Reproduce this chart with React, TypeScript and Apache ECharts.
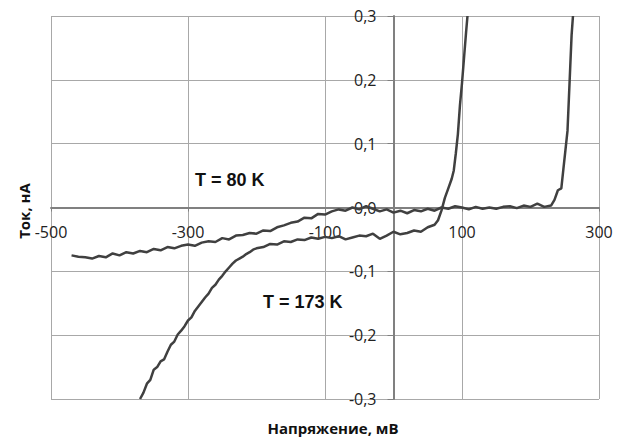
import React, { useEffect, useRef } from "react";
import * as echarts from "echarts";

// T = 80 K curve
const v80 = [-470, -460, -450, -440, -430, -420, -410, -400, -390, -380, -370, -360, -350, -340, -330, -320, -310, -300, -290, -280, -270, -260, -250, -240, -230, -220, -210, -200, -190, -180, -170, -160, -150, -140, -130, -120, -110, -100, -90, -80, -70, -60, -50, -40, -30, -20, -10, 0, 10, 20, 30, 40, 50, 60, 70, 80, 90, 100, 110, 120, 130, 140, 150, 160, 170, 180, 190, 200, 210, 220, 230, 235, 240, 245, 248, 251, 254, 256, 258, 260, 262];
const i80 = [-0.075, -0.077, -0.078, -0.080, -0.076, -0.078, -0.072, -0.075, -0.070, -0.072, -0.068, -0.070, -0.065, -0.067, -0.062, -0.064, -0.060, -0.058, -0.060, -0.055, -0.053, -0.054, -0.048, -0.050, -0.044, -0.043, -0.040, -0.041, -0.036, -0.037, -0.031, -0.028, -0.024, -0.022, -0.016, -0.017, -0.010, -0.011, -0.006, -0.003, -0.005, 0.000, -0.003, 0.002, -0.002, -0.006, -0.003, -0.008, -0.005, -0.009, -0.004, -0.006, -0.002, -0.005, 0.000, -0.002, 0.002, 0.000, -0.003, 0.001, -0.002, 0.000, -0.002, 0.001, 0.002, -0.001, 0.003, 0.001, 0.006, 0.001, 0.003, 0.012, 0.027, 0.030, 0.060, 0.090, 0.120, 0.170, 0.220, 0.270, 0.300];

// T = 173 K curve
const v173 = [-370, -365, -360, -355, -350, -345, -340, -335, -330, -325, -320, -315, -310, -305, -300, -295, -290, -285, -280, -275, -270, -265, -260, -255, -250, -245, -240, -235, -230, -225, -220, -215, -210, -205, -200, -190, -180, -170, -160, -150, -140, -130, -120, -110, -100, -90, -80, -70, -60, -50, -40, -30, -20, -10, 0, 10, 20, 30, 40, 50, 60, 65, 70, 75, 80, 85, 88, 91, 94, 97, 100, 103, 106, 108];
const i173 = [-0.300, -0.290, -0.276, -0.270, -0.254, -0.250, -0.241, -0.238, -0.226, -0.215, -0.210, -0.199, -0.193, -0.186, -0.177, -0.172, -0.162, -0.155, -0.148, -0.141, -0.135, -0.126, -0.121, -0.113, -0.107, -0.100, -0.094, -0.088, -0.083, -0.080, -0.077, -0.073, -0.070, -0.066, -0.064, -0.062, -0.057, -0.058, -0.053, -0.054, -0.050, -0.051, -0.047, -0.049, -0.046, -0.048, -0.045, -0.050, -0.047, -0.044, -0.045, -0.041, -0.049, -0.044, -0.038, -0.042, -0.040, -0.036, -0.038, -0.031, -0.027, -0.020, -0.005, 0.015, 0.030, 0.045, 0.058, 0.085, 0.115, 0.160, 0.195, 0.235, 0.275, 0.300];

const xMin = -500;
const xMax = 300;
const xStep = 200;
const yMin = -0.3;
const yMax = 0.3;
const yStep = 0.1;

const label80 = "T = 80 K";
const label173 = "T = 173 K";
const xName = "Напряжение, мВ";
const yName = "Ток, нА";

const GRID_LEFT = 51;
const GRID_RIGHT = 22;
const GRID_TOP = 16;
const GRID_BOTTOM = 39;
const W = 621;
const H = 438;

export default function App() {
  const ref = useRef<HTMLDivElement>(null);
  useEffect(() => {
    if (!ref.current) return;
    const chart = echarts.init(ref.current, null, { renderer: "svg" });
    const lineColor = "#404040";
    const labelFont = "Open Sans";
    const plotW = W - GRID_LEFT - GRID_RIGHT;
    const plotH = H - GRID_TOP - GRID_BOTTOM;
    // place axes through the origin by offsetting them from the grid edges
    const yAxisOffset = -((0 - xMin) / (xMax - xMin)) * plotW;
    const xAxisOffset = -((0 - yMin) / (yMax - yMin)) * plotH;
    chart.setOption({
      animation: false,
      backgroundColor: "#ffffff",
      grid: { left: GRID_LEFT, right: GRID_RIGHT, top: GRID_TOP, bottom: GRID_BOTTOM, containLabel: false },
      xAxis: {
        type: "value",
        min: xMin,
        max: xMax,
        interval: xStep,
        position: "bottom",
        offset: xAxisOffset,
        axisLine: { show: true, onZero: false, lineStyle: { color: "#808080", width: 2 } },
        axisTick: { show: true, length: 4, lineStyle: { color: "#808080", width: 1 } },
        axisLabel: { color: "#222", fontFamily: labelFont, fontSize: 16, margin: 16 },
        splitLine: { show: true, lineStyle: { color: "#a8a8a8", width: 1 } },
      },
      yAxis: {
        type: "value",
        min: yMin,
        max: yMax,
        interval: yStep,
        position: "left",
        offset: yAxisOffset,
        axisLine: { show: true, onZero: false, lineStyle: { color: "#808080", width: 2 } },
        axisTick: { show: true, length: 6, lineStyle: { color: "#808080", width: 1 } },
        axisLabel: {
          color: "#222",
          fontFamily: labelFont,
          fontSize: 16,
          margin: 17,
          formatter: (v: number) => v.toFixed(1).replace(".", ","),
        },
        splitLine: { show: true, lineStyle: { color: "#a8a8a8", width: 1 } },
      },
      series: [
        {
          type: "line",
          name: label80,
          data: v80.map((v, k) => [v, i80[k]]),
          showSymbol: false,
          lineStyle: { color: lineColor, width: 2.5 },
          itemStyle: { color: lineColor },
        },
        {
          type: "line",
          name: label173,
          data: v173.map((v, k) => [v, i173[k]]),
          showSymbol: false,
          lineStyle: { color: lineColor, width: 2.5 },
          itemStyle: { color: lineColor },
        },
      ],
      graphic: [
        {
          type: "text",
          x: 195,
          y: 180,
          style: { text: label80, font: "bold 18px 'Liberation Sans'", fill: "#111", textAlign: "left", verticalAlign: "middle" },
        },
        {
          type: "text",
          x: 263,
          y: 302,
          style: { text: label173, font: "bold 18px 'Liberation Sans'", fill: "#111", textAlign: "left", verticalAlign: "middle" },
        },
        {
          type: "text",
          x: 333,
          y: 428,
          style: { text: xName, font: "bold 15px 'Open Sans'", fill: "#111", textAlign: "center", verticalAlign: "middle" },
        },
        {
          type: "text",
          x: 24,
          y: 211,
          rotation: Math.PI / 2,
          style: { text: yName, font: "bold 15px 'Open Sans'", fill: "#111", textAlign: "center", verticalAlign: "middle" },
        },
      ],
    });
    return () => chart.dispose();
  }, []);
  return <div ref={ref} style={{ position: "fixed", left: 0, top: 0, width: W, height: H }} />;
}
